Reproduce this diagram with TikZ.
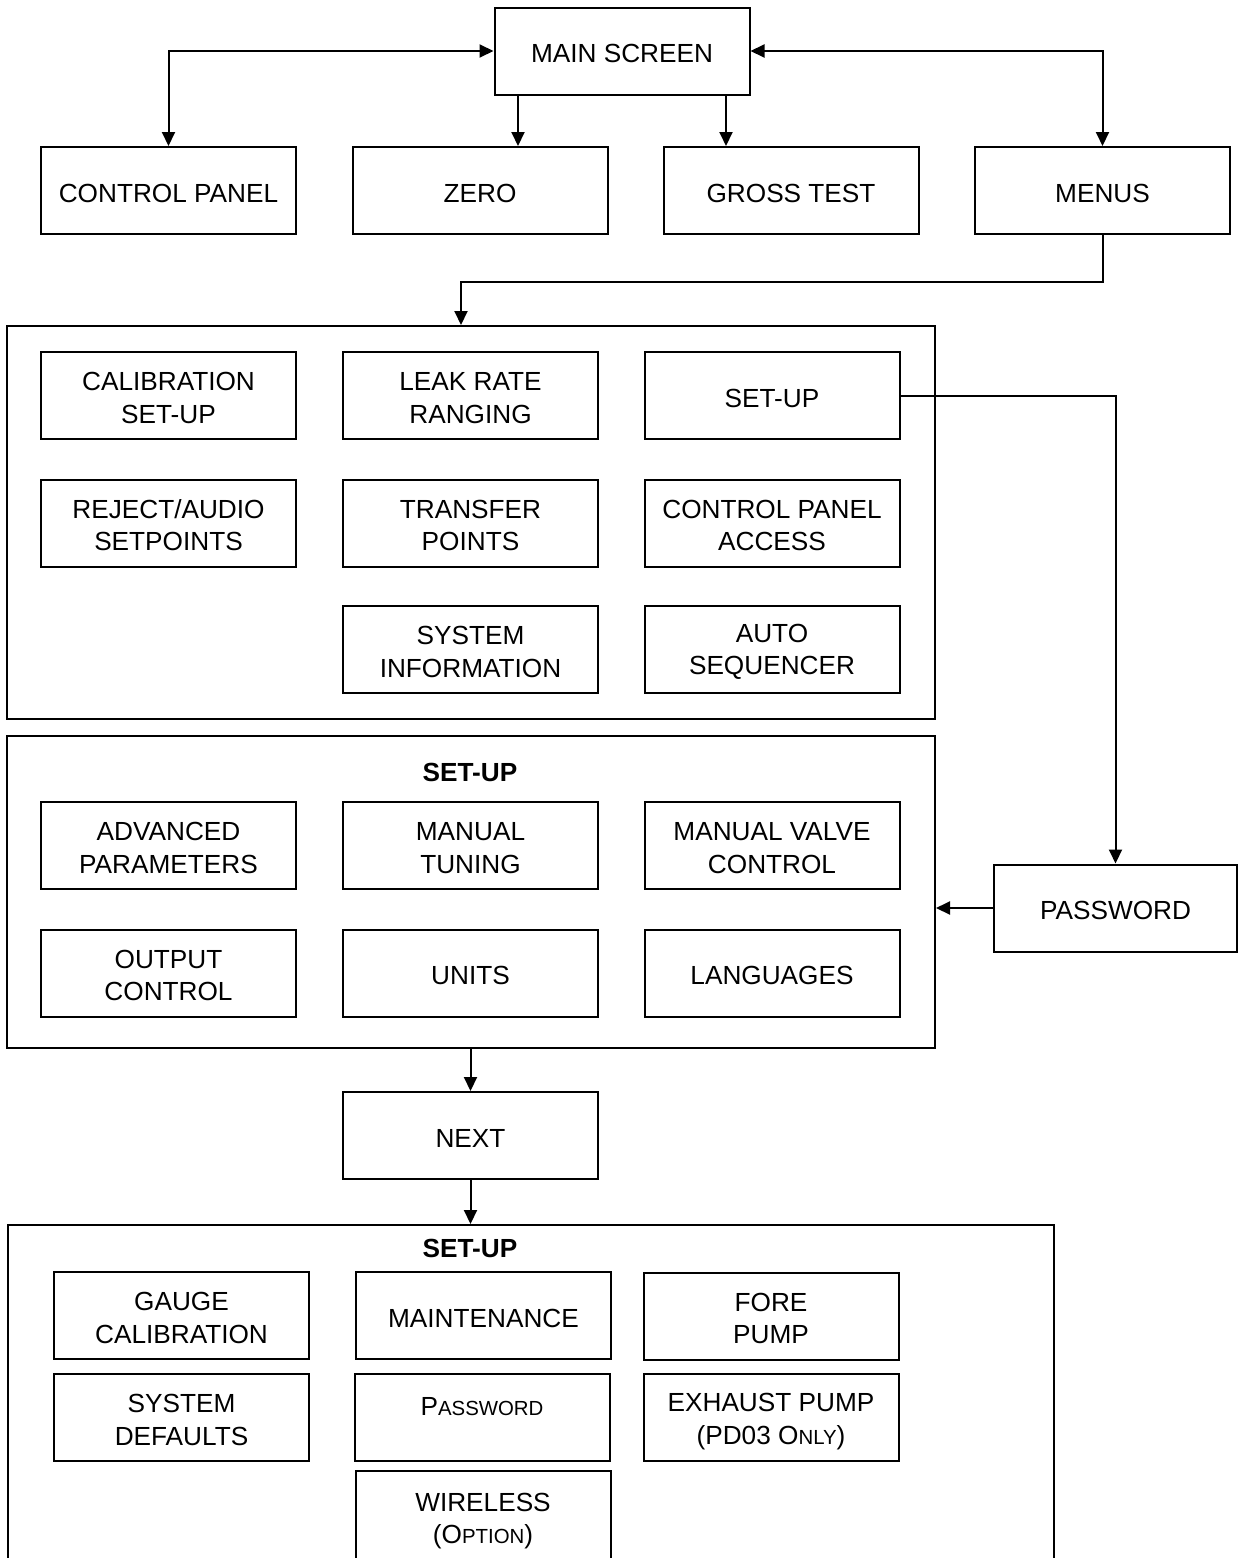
\documentclass[tikz,border=0pt]{standalone}
\usepackage{fontspec}
\setmainfont{Liberation Sans}
\usetikzlibrary{arrows.meta}
\newcommand{\fsc}[2]{#1{\fontsize{10.2pt}{16.25pt}\selectfont #2}}
\newcommand{\topstrut}{\rule{0pt}{12pt}}
\newcommand{\ts}{\rule{0pt}{11.6pt}}
\tikzset{
  px/.style={x=0.5pt,y=-0.5pt},
  box/.style={draw,line width=1pt,minimum width=127.5pt,minimum height=43.5pt,inner sep=0pt,align=center,execute at begin node=\topstrut,font=\fontsize{13.1pt}{16.3pt}\selectfont},
  frame/.style={draw,line width=1pt,inner sep=0pt},
  arr/.style={line width=1pt,-{Triangle[length=7pt,width=6.5pt]}},
  darr/.style={line width=1pt,{Triangle[length=7pt,width=6.5pt]}-{Triangle[length=7pt,width=6.5pt]}},
  ttl/.style={font=\bfseries\fontsize{13.1pt}{16.25pt}\selectfont}
}
\begin{document}
\begin{tikzpicture}[px]
\useasboundingbox (0,0) rectangle (1238,1558);
\clip (0,0) rectangle (1238,1558);
% top row
\node[box] (main) at (622,51) {MAIN SCREEN};
\node[box] (cp) at (168.5,190.5) {CONTROL PANEL};
\node[box] (zero) at (480,190.5) {ZERO};
\node[box] (gross) at (791,190.5) {GROSS TEST};
\node[box] (menus) at (1102.5,190.5) {MENUS};
\coordinate (zx) at (518,0);
\coordinate (gx) at (726,0);
\coordinate (m1) at (461,282);
\draw[darr] (cp.north) |- (main.west);
\draw[darr] (menus.north) |- (main.east);
\draw[arr] (main.south -| zx) -- (zero.north -| zx);
\draw[arr] (main.south -| gx) -- (gross.north -| gx);
% frame 1
\node[frame,minimum width=464pt,minimum height=196.5pt] (f1) at (471,522.5) {};
\draw[arr] (menus.south) |- (m1) -- (m1 |- f1.north);
\node[box] (cal) at (168.5,395.5) {\ts CALIBRATION\\SET-UP};
\node[box] (leak) at (470.5,395.5) {\ts LEAK RATE\\RANGING};
\node[box] (setup) at (772,395.5) {SET-UP};
\node[box] (rej) at (168.5,523) {\ts REJECT/AUDIO\\SETPOINTS};
\node[box] (trans) at (470.5,523) {\ts TRANSFER\\POINTS};
\node[box] (cpa) at (772,523) {\ts CONTROL PANEL\\ACCESS};
\node[box] (sysinfo) at (470.5,649.5) {\ts SYSTEM\\INFORMATION};
\node[box] (auto) at (772,649.5) {\ts AUTO\\SEQUENCER};
% password
\node[box,minimum width=121.5pt] (pw) at (1115.5,908) {PASSWORD};
\draw[arr] (setup.east) -| (pw.north);
% frame 2
\node[frame,minimum width=464pt,minimum height=156pt] (f2) at (471,892) {};
\draw[arr] (pw.west) -- (pw.west -| f2.east);
\node[ttl] (t2) at (470,772) {SET-UP};
\node[box] (adv) at (168.5,845.5) {\ts ADVANCED\\PARAMETERS};
\node[box] (mtune) at (470.5,845.5) {\ts MANUAL\\TUNING};
\node[box] (mvalve) at (772,845.5) {\ts MANUAL VALVE\\CONTROL};
\node[box] (out) at (168.5,973) {\ts OUTPUT\\CONTROL};
\node[box] (units) at (470.5,973) {UNITS};
\node[box] (lang) at (772,973) {LANGUAGES};
% next
\node[box] (next) at (470.5,1135.5) {NEXT};
\draw[arr] (f2.south -| next) -- (next.north);
% frame 3
\node[frame,minimum width=523pt,minimum height=200pt] (f3) at (531,1425) {};
\draw[arr] (next.south) -- (next.south |- f3.north);
\node[ttl] (t3) at (470,1248) {SET-UP};
\node[box] (gauge) at (181.5,1315.5) {\ts GAUGE\\CALIBRATION};
\node[box] (maint) at (483.5,1315.5) {MAINTENANCE};
\node[box] (fore) at (771,1316) {\ts FORE\\PUMP};
\node[box] (sysdef) at (181.5,1417.5) {\ts SYSTEM\\DEFAULTS};
\node[box,text depth=14.1pt] (pw2) at (482,1417.5) {\fsc{P}{ASSWORD}};
\node[box] (exh) at (771,1417.5) {\rule{0pt}{13pt}EXHAUST PUMP\\(PD03 \fsc{O}{NLY})};
\node[box,minimum height=47.5pt] (wire) at (483,1518.5) {\ts WIRELESS\\(\fsc{O}{PTION})};
\end{tikzpicture}
\end{document}
